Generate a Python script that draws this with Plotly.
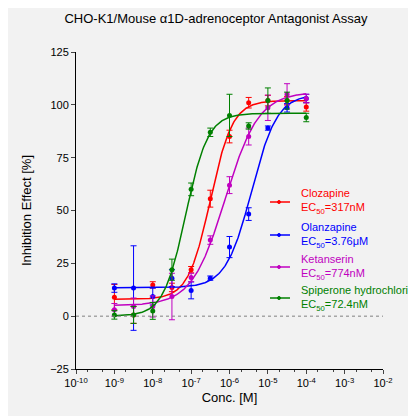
import numpy as np
import plotly.graph_objects as go

conc = [1e-9, 3.16e-9, 1e-8, 3.16e-8, 1e-7, 3.16e-7, 1e-6, 3.16e-6, 1e-5, 3.16e-5, 1e-4]
names = ["Clozapine", "Olanzapine", "Ketanserin", "Spiperone hydrochloride"]
ec50_labels = ["317nM", "3.76μM", "774nM", "72.4nM"]
colors = ["#ff0000", "#0000ff", "#c000c0", "#008000"]
clozapine = [9, 0.6, 14.8, 13.6, 22, 55.6, 85, 101, 102, 102, 99]
olanzapine = [13.3, 13.3, 9.3, 18, 12.2, 18, 32.7, 48.3, 89, 98.6, 103]
ketanserin = [3, 4.6, 4.6, 9.3, 18.3, 36, 62, 85, 98.6, 105, 103]
spiperone = [0.6, 0.6, 2.5, 22, 60, 87, 95, 90, 102, 102, 94]
err_cloz = [6, 4, 1.5, 2, 1.5, 4, 3, 2.5, 2.5, 2, 2]
err_olan = [2, 20, 4, 4, 4, 1, 5, 3, 1, 2, 2]
err_ket = [3, 4, 5, 11, 2, 2, 4, 4, 6, 5, 2]
err_spip = [2, 4, 4, 5, 3, 2, 10, 1.5, 6, 4, 2]
# fitted 4PL parameters: bottom, top, EC50, hill
fits = [(8, 102, 317e-9, 1.5), (13.5, 105, 3.76e-6, 1.3), (5, 106, 774e-9, 1.0), (0, 96, 72.4e-9, 1.5)]

series = [clozapine, olanzapine, ketanserin, spiperone]
errs = [err_cloz, err_olan, err_ket, err_spip]

fig = go.Figure()
xs = np.logspace(-9, -4, 300)
W, H, L, T = 307, 317, 68, 44
def px(X): return (X - L) / W
def py(Y): return (T + H - Y) / H

legend_y = [194, 227, 259, 290]
for i, (name, lab, c, y, e, (b, t, ec, h)) in enumerate(zip(names, ec50_labels, colors, series, errs, fits)):
    yc = b + (t - b) / (1 + (ec / xs) ** h)
    fig.add_trace(go.Scatter(x=xs, y=yc, mode="lines", line=dict(color=c, width=1.5), showlegend=False))
    fig.add_trace(go.Scatter(x=conc, y=y, mode="markers", marker=dict(color=c, size=5),
                             error_y=dict(type="data", array=e, color=c, thickness=1, width=3),
                             showlegend=False))
    ly = legend_y[i]
    fig.add_shape(type="line", xref="paper", yref="paper", x0=px(262), x1=px(282), y0=py(ly), y1=py(ly),
                  line=dict(color=c, width=1.5))
    fig.add_shape(type="circle", xref="paper", yref="paper", x0=px(269.5), x1=px(272.5),
                  y0=py(ly + 1.5), y1=py(ly - 1.5), fillcolor=c, line=dict(color=c, width=1))
    fig.add_annotation(xref="paper", yref="paper", x=px(291), y=py(ly), xanchor="left", yanchor="middle",
                       text=f"{name}<br>EC<sub>50</sub>={lab}", showarrow=False, align="left",
                       font=dict(color=c, size=11))

fig.add_shape(type="line", xref="paper", x0=0, x1=1, y0=0, y1=0, line=dict(color="#808080", width=1, dash="dot"))

tv = [10.0 ** k for k in range(-10, -1)]
tt = [f"10<sup>{k}</sup>" for k in range(-10, -1)]
fig.update_layout(
    width=416, height=416, paper_bgcolor="#f2f2f2", plot_bgcolor="#f2f2f2",
    margin=dict(l=L, r=416 - L - W, t=T, b=416 - T - H, autoexpand=False),
    showlegend=False,
    title=dict(text="CHO-K1/Mouse α1D-adrenoceptor Antagonist Assay", x=0.5, y=0.985, yanchor="top",
               font=dict(size=13, color="#000")),
    font=dict(family="Liberation Sans, Arial", size=11, color="#000"),
    xaxis=dict(type="log", range=[-10, -2], tickvals=tv, ticktext=tt, showgrid=False,
               showline=True, linecolor="#000", ticks="outside", ticklen=4,
               minor=dict(ticks="outside", ticklen=2, showgrid=False),
               title=dict(text="Conc. [M]", standoff=4), zeroline=False),
    yaxis=dict(range=[-25, 125], tickvals=[-25, 0, 25, 50, 75, 100, 125], showgrid=False,
               showline=True, linecolor="#000", ticks="outside", ticklen=4,
               title=dict(text="Inhibition Effect [%]"), zeroline=False),
)
fig.write_html("out.html")
